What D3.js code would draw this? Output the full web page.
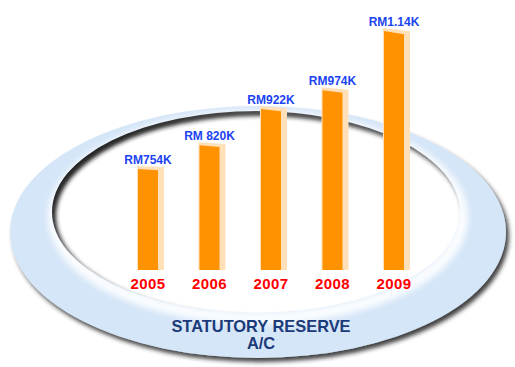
<!DOCTYPE html>
<html>
<head>
<meta charset="utf-8">
<script src="https://cdn.jsdelivr.net/npm/d3@7"></script>
<style>
	body { margin: 0; background: #fff; }
	svg { display: block; font-family: Arial, "Liberation Sans", sans-serif; font-weight: bold; }
</style>
</head>
<body>
<svg id="chart" width="515" height="367"></svg>
<script>

// Data
// ==============================================

var years = ["2005", "2006", "2007", "2008", "2009"];
var reserves = [754, 820, 922, 974, 1140]; // RM thousand
var valueLabels = ["RM754K", "RM 820K", "RM922K", "RM974K", "RM1.14K"];
var titleLines = ["STATUTORY RESERVE", "A/C"];

var data = years.map(function(y, i){
	return { year: y, value: reserves[i], label: valueLabels[i] };
});

var svg = d3.select("#chart");
var defs = svg.append("defs");

// Ring geometry (outer plate + sunken hole)
var outer = { cx: 258, cy: 232, rx: 248, ry: 126 },
	inner = { cx: 256, cy: 212, rx: 204, ry: 101 };

function ellipsePath(e){
	return "M" + (e.cx - e.rx) + "," + e.cy +
		"A" + e.rx + "," + e.ry + " 0 1,0 " + (e.cx + e.rx) + "," + e.cy +
		"A" + e.rx + "," + e.ry + " 0 1,0 " + (e.cx - e.rx) + "," + e.cy + "Z";
}

// Filters & gradients
// ==============================================

var drop = defs.append("filter").attr("id", "drop")
	.attr("x", "-10%").attr("y", "-10%").attr("width", "120%").attr("height", "130%");
drop.append("feGaussianBlur").attr("in", "SourceAlpha").attr("stdDeviation", 2.2).attr("result", "b");
drop.append("feOffset").attr("in", "b").attr("dx", 3).attr("dy", 4).attr("result", "o");
drop.append("feFlood").attr("flood-color", "#222").attr("flood-opacity", 0.85);
drop.append("feComposite").attr("in2", "o").attr("operator", "in").attr("result", "s");
var m = drop.append("feMerge");
m.append("feMergeNode").attr("in", "s");
m.append("feMergeNode").attr("in", "SourceGraphic");

defs.append("filter").attr("id", "soft")
	.attr("x", "-20%").attr("y", "-20%").attr("width", "140%").attr("height", "140%")
	.append("feGaussianBlur").attr("stdDeviation", 3);

defs.append("filter").attr("id", "edge")
	.attr("x", "-20%").attr("y", "-20%").attr("width", "140%").attr("height", "140%")
	.append("feGaussianBlur").attr("stdDeviation", 2.4);

var shade = defs.append("linearGradient").attr("id", "shade")
	.attr("gradientUnits", "userSpaceOnUse")
	.attr("x1", 120).attr("y1", 110).attr("x2", 330).attr("y2", 313);
shade.append("stop").attr("offset", 0).attr("stop-color", "#1e1e1e").attr("stop-opacity", 0.9);
shade.append("stop").attr("offset", 0.55).attr("stop-color", "#444").attr("stop-opacity", 0.55);
shade.append("stop").attr("offset", 1).attr("stop-color", "#888").attr("stop-opacity", 0);

defs.append("clipPath").attr("id", "hole")
	.append("path").attr("d", ellipsePath(inner));

defs.append("clipPath").attr("id", "ring")
	.append("path").attr("d", ellipsePath(outer) + ellipsePath(inner)).attr("clip-rule", "evenodd");

// Ring
// ==============================================

svg.append("path")
	.attr("d", ellipsePath(outer) + ellipsePath(inner))
	.attr("fill-rule", "evenodd")
	.attr("fill", "#d5e6f8")
	.attr("filter", "url(#drop)");

// white glow along the lower inner edge of the ring
svg.append("g").attr("clip-path", "url(#ring)")
	.append("path")
		.attr("d", ellipsePath(inner))
		.attr("transform", "translate(2,5)")
		.attr("fill", "none")
		.attr("stroke", "#fff")
		.attr("stroke-width", 12)
		.attr("opacity", 0.9)
		.attr("filter", "url(#soft)");

// inner shadow cast into the hole
svg.append("g").attr("clip-path", "url(#hole)")
	.append("path")
		.attr("d", "M-60,-60H600V450H-60Z" + ellipsePath(inner))
		.attr("fill-rule", "evenodd")
		.attr("transform", "translate(3,4)")
		.attr("fill", "url(#shade)")
		.attr("filter", "url(#edge)");

// Scales
// ==============================================

var x = d3.scalePoint().domain(years).range([148, 394]),
	y = d3.scaleLinear().domain([471, 1140]).range([270, 31]),
	barW = 20;

function barShape(d, dx, dy, extra){
	var left = x(d.year) - barW / 2 + dx,
		right = x(d.year) + barW / 2 + dx + extra,
		base = y.range()[0],
		top = y(d.value) + dy,
		slant = (base - y(d.value)) * 0.014;
	return "M" + left + "," + base +
		"L" + left + "," + top +
		"L" + right + "," + (top + slant) +
		"L" + right + "," + base + "Z";
}

// Bars
// ==============================================

var bars = svg.append("g").attr("class", "bars")
	.selectAll("g").data(data).enter().append("g");

bars.append("path")
	.attr("d", function(d){ return barShape(d, -1, -3, 7); })
	.attr("fill", "#ffe0b8");

bars.append("path")
	.attr("d", function(d){ return barShape(d, 0, 0, 0); })
	.attr("fill", "#ff9200");

bars.append("text")
	.attr("x", function(d){ return x(d.year); })
	.attr("y", function(d){ return y(d.value) - 5; })
	.attr("text-anchor", "middle")
	.attr("font-size", 12)
	.attr("fill", "#1c44f2")
	.text(function(d){ return d.label; });

// Year axis
// ==============================================

svg.append("g").selectAll("text").data(years).enter().append("text")
	.attr("x", function(d){ return x(d); })
	.attr("y", 288.5)
	.attr("text-anchor", "middle")
	.attr("font-size", 15)
	.attr("letter-spacing", 0.4)
	.attr("fill", "#ff0000")
	.text(function(d){ return d; });

// Title
// ==============================================

svg.append("g").selectAll("text").data(titleLines).enter().append("text")
	.attr("x", 261)
	.attr("y", function(d, i){ return 332 + i * 17; })
	.attr("text-anchor", "middle")
	.attr("font-size", 16.4)
	.attr("fill", "#1b3a7a")
	.text(function(d){ return d; });

</script>
</body>
</html>
